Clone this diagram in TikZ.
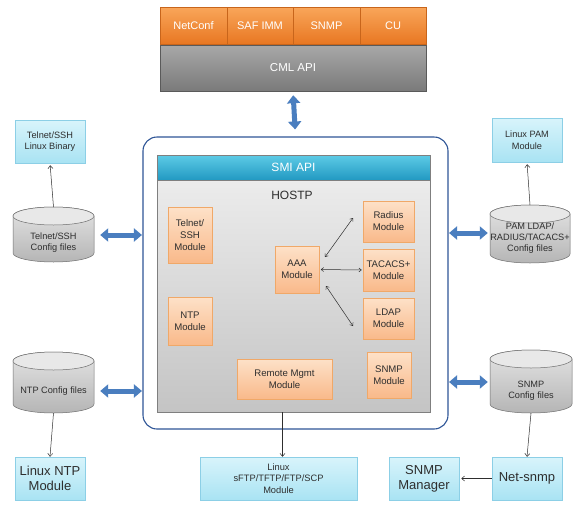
\documentclass[tikz,border=0pt]{standalone}
\usepackage{fontspec}
\setmainfont{Liberation Sans}
\usetikzlibrary{arrows.meta,shadows,calc}
\definecolor{orT}{HTML}{F9A65A}
\definecolor{orB}{HTML}{E87722}
\definecolor{orD}{HTML}{C8651B}
\definecolor{cmT}{HTML}{A8A8A8}
\definecolor{cmB}{HTML}{7A7A7A}
\definecolor{cmD}{HTML}{5A5A5A}
\definecolor{smT}{HTML}{5DCBE6}
\definecolor{smB}{HTML}{2299C2}
\definecolor{grT}{HTML}{F0F0F0}
\definecolor{grB}{HTML}{C4C4C4}
\definecolor{grD}{HTML}{7F7F7F}
\definecolor{moT}{HTML}{FDE1C8}
\definecolor{moB}{HTML}{F9B98A}
\definecolor{moD}{HTML}{F0A868}
\definecolor{lbT}{HTML}{D8F4FB}
\definecolor{lbB}{HTML}{A9E3F3}
\definecolor{lbD}{HTML}{8CCFE6}
\definecolor{cyT}{HTML}{E4E4E4}
\definecolor{cyB}{HTML}{B5B5B5}
\definecolor{cyE}{HTML}{E8E8E8}
\definecolor{cyD}{HTML}{6E6E6E}
\definecolor{fatC}{HTML}{4A7EBF}
\definecolor{outD}{HTML}{2F5597}
\definecolor{txt}{HTML}{2E2E2E}
\newcommand\cylshape[7]{%
  \pgfmathsetmacro\cylrx{(#3-#2)/2}%
  \pgfmathsetmacro\cylcx{(#2+#3)/2}%
  \draw[draw=cyD, line width=0.5pt, top color=cyT, bottom color=cyB]
    (#2,#4+9) -- (#2,#5-9) arc[start angle=180, end angle=360, x radius=\cylrx pt, y radius=9pt]
    -- (#3,#4+9) arc[start angle=0, end angle=180, x radius=\cylrx pt, y radius=9pt] -- cycle;
  \draw[draw=cyD, line width=0.5pt, fill=cyE] (\cylcx,#4+9) ellipse[x radius=\cylrx pt, y radius=9pt];
  \node[cyltext, minimum width={2*\cylrx pt}] (#1) at (\cylcx,#7) {#6};
  \coordinate (#1t) at (\cylcx,#4);
  \coordinate (#1b) at (\cylcx,#5);
}
\begin{document}
\begin{tikzpicture}[x=1pt, y=-1pt,
  shd/.style={drop shadow={shadow xshift=1pt, shadow yshift=-1pt, opacity=0.3, fill=black!60}},
  topcell/.style={draw=orD, line width=0.4pt, top color=orT, bottom color=orB, text=white,
    font=\fontsize{11}{13}\selectfont, minimum height=37pt, inner sep=0pt},
  mod/.style={draw=moD, line width=0.5pt, top color=moT, bottom color=moB, text=txt,
    font=\fontsize{9.6}{12}\selectfont, align=center, inner sep=0pt, shd},
  lbox/.style={draw=lbD, line width=0.5pt, top color=lbT, bottom color=lbB, text=txt,
    align=center, inner sep=0pt, shd},
  cyltext/.style={text=txt, font=\fontsize{9.2}{11}\selectfont, align=center, inner sep=0pt},
  fatarrow/.style={line width=5pt, draw=fatC, {Triangle[length=8pt,width=13pt]}-{Triangle[length=8pt,width=13pt]}},
  conn/.style={draw=txt, line width=0.5pt, -{Straight Barb[length=3pt,width=5pt]}},
  conn2/.style={draw=txt, line width=0.5pt, {Straight Barb[length=2.5pt,width=4pt]}-{Straight Barb[length=2.5pt,width=4pt]}}
]
\useasboundingbox (0,0) rectangle (584,517);
\fill[white] (0,0) rectangle (584,517);

% top stack
\node[topcell, minimum width=67pt] (netconf) at (193.5,25.5) {NetConf};
\node[topcell, minimum width=66pt] (safimm) at (260,25.5) {SAF IMM};
\node[topcell, minimum width=67pt] (snmptop) at (326.5,25.5) {SNMP};
\node[topcell, minimum width=66pt] (cu) at (393,25.5) {CU};
\node[draw=cmD, line width=0.5pt, top color=cmT, bottom color=cmB, text=white,
  font=\fontsize{11.5}{13}\selectfont, minimum width=266pt, minimum height=46pt, inner sep=0pt, shd]
  (cml) at (293,68) {CML API};

% outer container
\node[draw=outD, line width=1.1pt, fill=white, rounded corners=14pt,
  minimum width=305pt, minimum height=292pt, inner sep=0pt] (outer) at (295.5,283) {};
\node[draw=grD, line width=0.5pt, top color=grT, bottom color=grB,
  minimum width=273pt, minimum height=257pt, inner sep=0pt, shd] (inner) at (293.5,283.5) {};
\node[draw=grD, line width=0.4pt, top color=smT, bottom color=smB, text=white,
  font=\fontsize{12}{14}\selectfont, minimum width=273pt, minimum height=25pt, inner sep=0pt]
  (smi) at (293.5,167.5) {SMI API};
\node[text=txt, font=\fontsize{12}{14}\selectfont, inner sep=0pt] (hostp) at (292,195) {HOSTP};

% modules
\node[mod, minimum width=44pt, minimum height=56pt] (telmod) at (190,235) {Telnet/\\SSH\\Module};
\node[mod, minimum width=44pt, minimum height=48pt] (ntpmod) at (190,321) {NTP\\Module};
\node[mod, minimum width=44pt, minimum height=47pt] (aaa) at (297,269.5) {AAA\\Module};
\node[mod, minimum width=51pt, minimum height=41pt] (radius) at (388.5,221.5) {Radius\\Module};
\node[mod, minimum width=51pt, minimum height=42pt] (tacacs) at (388.5,270) {TACACS+\\Module};
\node[mod, minimum width=51pt, minimum height=41pt] (ldap) at (388.5,318.5) {LDAP\\Module};
\node[mod, minimum width=44pt, minimum height=46pt] (snmpmod) at (389,375) {SNMP\\Module};
\node[mod, minimum width=95pt, minimum height=40pt] (remote) at (284.5,379) {Remote Mgmt\\Module};

\coordinate (r1) at (325,257);
\coordinate (r2) at (353,218);
\coordinate (l1) at (326,286);
\coordinate (l2) at (353,326);
\draw[conn2] (r1) -- (r2);
\draw[conn2, shorten <=1.5pt, shorten >=1pt] (aaa.east) -- (tacacs.west);
\draw[conn2] (l1) -- (l2);

% outside boxes
\node[lbox, font=\fontsize{9.2}{11.5}\selectfont, minimum width=70pt, minimum height=43pt] (telbin) at (50,141.5) {Telnet/SSH\\Linux Binary};
\node[lbox, font=\fontsize{9.2}{11.5}\selectfont, minimum width=70pt, minimum height=44pt] (pam) at (527,140) {Linux PAM\\Module};
\node[lbox, font=\fontsize{13}{15}\selectfont, minimum width=70pt, minimum height=43pt] (ntpbox) at (50,478.5) {Linux NTP\\Module};
\node[lbox, font=\fontsize{13}{15}\selectfont, minimum width=70pt, minimum height=43pt] (netsnmp) at (527,478.5) {Net-snmp};
\node[lbox, font=\fontsize{13}{15}\selectfont, minimum width=70pt, minimum height=43pt] (snmpmgr) at (424,478.5) {SNMP\\Manager};
\node[lbox, font=\fontsize{9.3}{11.5}\selectfont, minimum width=157pt, minimum height=43pt] (sftp) at (278.5,478.5) {Linux\\sFTP/TFTP/FTP/SCP\\Module};

% cylinders
\cylshape{telcyl}{13}{94}{207}{262}{Telnet/SSH\\Config files}{243}
\cylshape{pamcyl}{490}{570}{205}{263}{PAM LDAP/\\RADIUS/TACACS+\\Config files}{238}
\cylshape{ntpcyl}{13}{94}{352}{413}{NTP Config files}{391}
\cylshape{snmpcyl}{490}{572}{350}{413}{SNMP\\Config files}{391}

% thin connectors
\draw[conn, shorten >=2pt] (telcylt) -- (telbin.south);
\draw[conn, shorten >=2pt] (pamcylt) -- (pam.south);
\draw[conn] (ntpcylb) -- (ntpbox.north);
\draw[conn] (snmpcylb) -- (netsnmp.north);
\draw[conn, shorten >=2pt] (netsnmp.west) -- (snmpmgr.east);
\coordinate (fa) at ([xshift=4pt]sftp.north);
\draw[conn] (fa |- inner.south) -- (fa);

% fat arrows
\draw[fatarrow, shorten <=4pt, shorten >=7pt] (cml.south) -- (outer.north);
\coordinate (ta) at ([yshift=8pt]telcyl.east);
\draw[fatarrow, shorten <=6pt, shorten >=0.5pt] (ta) -- (ta -| outer.west);
\coordinate (pa) at ([yshift=5pt]pamcyl.west);
\draw[fatarrow, shorten <=2pt, shorten >=0.5pt] (pa) -- (pa -| outer.east);
\coordinate (na) at (ntpcyl.east);
\draw[fatarrow, shorten <=6pt, shorten >=0.5pt] (na) -- (na -| outer.west);
\coordinate (sa) at ([yshift=9pt]snmpcyl.west);
\draw[fatarrow, shorten <=2pt, shorten >=0.5pt] (sa) -- (sa -| outer.east);
\end{tikzpicture}
\end{document}
